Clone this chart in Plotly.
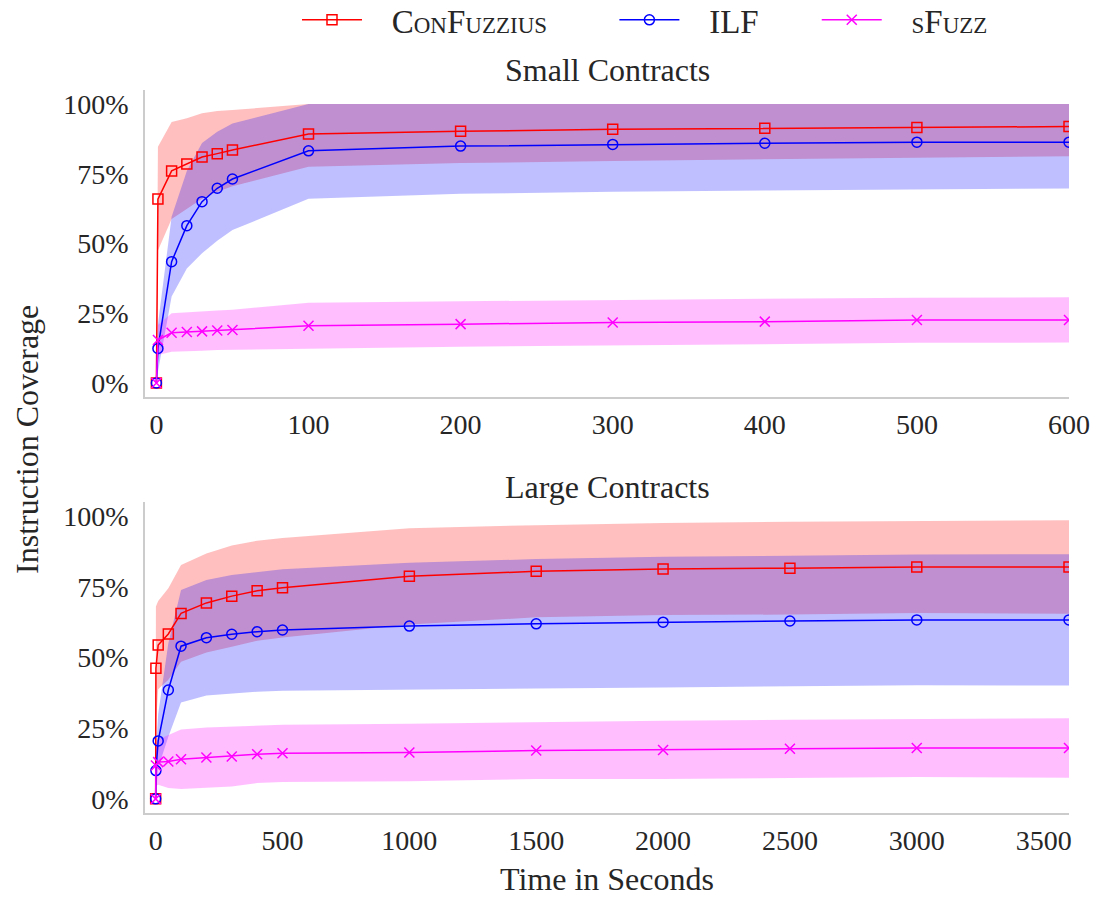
import plotly.graph_objects as go

# ---------------- data (percent) ----------------
T_SMALL = [0, 1, 10, 20, 30, 40, 50, 100, 200, 300, 400, 500, 600]
CONF_SMALL = [0, 65.9, 76.0, 78.5, 81.0, 82.2, 83.5, 89.2, 90.2, 90.9, 91.3, 91.6, 91.9]
CONF_SMALL_LO = [0, 47.5, 58.8, 62.5, 66.0, 68.5, 70.5, 77.5, 78.8, 79.6, 80.2, 80.8, 81.3]
CONF_SMALL_HI = [0, 84.7, 93.5, 94.9, 96.7, 97.5, 97.8, 100, 100, 100, 100, 100, 100]
ILF_SMALL = [0, 12.4, 43.5, 56.4, 65.0, 69.8, 73.1, 83.2, 84.9, 85.5, 85.9, 86.3, 86.3]
ILF_SMALL_LO = [0, 4.0, 31.0, 41.0, 46.5, 51.0, 54.8, 66.0, 67.8, 68.5, 69.0, 69.4, 69.7]
ILF_SMALL_HI = [0, 21.0, 59.6, 76.0, 86.0, 90.0, 93.0, 100, 100, 100, 100, 100, 100]
SFUZZ_SMALL = [0, 15.4, 18.0, 18.3, 18.5, 18.8, 19.0, 20.5, 21.1, 21.7, 22.0, 22.6, 22.6]
SFUZZ_SMALL_LO = [0, 10.0, 11.2, 11.4, 11.6, 11.8, 12.0, 12.3, 13.0, 13.6, 13.9, 14.4, 14.5]
SFUZZ_SMALL_HI = [0, 20.8, 25.0, 25.4, 25.7, 26.0, 26.3, 28.8, 29.3, 29.8, 30.1, 30.6, 30.7]

T_LARGE = [0, 1, 10, 50, 100, 200, 300, 400, 500, 1000, 1500, 2000, 2500, 3000, 3600]
CONF_LARGE = [0, 46.2, 54.4, 58.3, 65.6, 69.3, 71.7, 73.6, 74.7, 78.7, 80.5, 81.3, 81.6, 82.0, 82.0]
CONF_LARGE_LO = [0, 26.0, 38.8, 42.1, 48.5, 51.8, 53.8, 55.9, 57.1, 61.7, 64.2, 65.0, 65.2, 65.7, 65.5]
CONF_LARGE_HI = [0, 68.0, 70.0, 74.5, 82.7, 86.8, 89.6, 91.3, 92.3, 95.7, 96.8, 97.6, 98.0, 98.3, 98.5]
ILF_LARGE = [0, 10.0, 20.5, 38.5, 54.0, 57.0, 58.2, 59.1, 59.7, 61.1, 61.9, 62.5, 62.9, 63.3, 63.3]
ILF_LARGE_LO = [0, 3.0, 11.0, 22.0, 34.1, 36.6, 37.2, 37.9, 38.2, 38.7, 39.0, 39.4, 39.7, 40.2, 40.1]
ILF_LARGE_HI = [0, 17.0, 30.0, 55.0, 73.9, 77.4, 79.2, 80.3, 81.2, 83.5, 84.8, 85.6, 86.1, 86.4, 86.5]
SFUZZ_LARGE = [0, 11.8, 13.0, 13.2, 14.0, 14.6, 15.0, 15.8, 16.1, 16.4, 17.1, 17.3, 17.7, 18.0, 18.0]
SFUZZ_LARGE_LO = [0, 4.6, 5.0, 3.8, 3.5, 4.0, 4.4, 5.6, 6.0, 6.2, 7.0, 7.0, 7.4, 7.7, 7.5]
SFUZZ_LARGE_HI = [0, 19.0, 21.0, 22.6, 24.5, 25.2, 25.6, 26.0, 26.2, 26.6, 27.2, 27.6, 28.0, 28.3, 28.5]

SERIES = ["ConFuzzius", "ILF", "sFuzz"]
COLORS = ["#ff0000", "#0000ff", "#ff00ff"]
FILLS = ["rgba(255,0,0,0.25)", "rgba(0,0,255,0.25)", "rgba(255,0,255,0.25)"]
SYMBOLS = ["square-open", "circle-open", "x-thin-open"]
LEGENDS = ["legend", "legend2", "legend3"]

Y_TICKS = [0, 25, 50, 75, 100]
Y_TICKTEXT = [f"{v}%" for v in Y_TICKS]
X_TICKS_SMALL = [0, 100, 200, 300, 400, 500, 600]
X_TICKS_LARGE = [0, 500, 1000, 1500, 2000, 2500, 3000, 3500]

FONT = "Liberation Serif"
TXT = "#262626"
GAP = "\u00a0\u00a0\u00a0"
TAIL = "\u00a0\u00a0\u00a0"

fig = go.Figure()

panels = [
    ("x", "y", T_SMALL,
     [(CONF_SMALL, CONF_SMALL_LO, CONF_SMALL_HI),
      (ILF_SMALL, ILF_SMALL_LO, ILF_SMALL_HI),
      (SFUZZ_SMALL, SFUZZ_SMALL_LO, SFUZZ_SMALL_HI)], True),
    ("x2", "y2", T_LARGE,
     [(CONF_LARGE, CONF_LARGE_LO, CONF_LARGE_HI),
      (ILF_LARGE, ILF_LARGE_LO, ILF_LARGE_HI),
      (SFUZZ_LARGE, SFUZZ_LARGE_LO, SFUZZ_LARGE_HI)], False),
]

for xa, ya, t, series, legend_on in panels:
    # bands first
    for (m, lo, hi), fc in zip(series, FILLS):
        fig.add_trace(go.Scatter(
            x=list(t) + list(t)[::-1], y=list(hi) + list(lo)[::-1],
            fill="toself", fillcolor=fc, mode="lines", line=dict(width=0),
            hoverinfo="skip", showlegend=False, xaxis=xa, yaxis=ya))
    for (m, lo, hi), name, c, sym, lg in zip(series, SERIES, COLORS, SYMBOLS, LEGENDS):
        fig.add_trace(go.Scatter(
            x=t, y=m, name=GAP + name + TAIL, mode="lines+markers",
            line=dict(color=c, width=1.5),
            marker=dict(symbol=sym, size=10, color=c, line=dict(color=c, width=1.5)),
            showlegend=legend_on, legend=lg, xaxis=xa, yaxis=ya))

axis_common = dict(showline=True, linecolor="#cccccc", linewidth=1.5, showgrid=False,
                   zeroline=False, ticks="outside", tickcolor="rgba(0,0,0,0)",
                   ticklabeloverflow="allow",
                   tickfont=dict(family=FONT, size=28, color=TXT))

fig.update_layout(
    width=1094, height=898,
    margin=dict(l=145, r=25, t=90, b=85, autoexpand=False),
    plot_bgcolor="white", paper_bgcolor="white",
    xaxis=dict(domain=[0, 1], anchor="y", range=[-7.5, 600], tickvals=X_TICKS_SMALL,
               ticklen=2, **axis_common),
    yaxis=dict(domain=[0.5754, 1], anchor="x", range=[-5, 105], tickvals=Y_TICKS,
               ticktext=Y_TICKTEXT, ticklen=9, **axis_common),
    xaxis2=dict(domain=[0, 1], anchor="y2", range=[-42, 3600], tickvals=X_TICKS_LARGE,
                ticklen=2, **axis_common),
    yaxis2=dict(domain=[0, 0.4302], anchor="x2", range=[-5, 105], tickvals=Y_TICKS,
                ticktext=Y_TICKTEXT, ticklen=9, **axis_common),
)

leg_common = dict(orientation="h", yanchor="middle", y=1.097, xanchor="left",
                  bgcolor="rgba(0,0,0,0)", itemwidth=60,
                  font=dict(family=FONT, size=33, color=TXT, variant="small-caps"))
fig.update_layout(
    legend=dict(x=0.1645, **leg_common),
    legend2=dict(x=0.5080, **leg_common),
    legend3=dict(x=0.7270, **leg_common),
)

title_font = dict(family=FONT, size=32, color=TXT)
fig.add_annotation(text="Small Contracts", x=0.5, y=1.0277, xref="paper", yref="paper",
                   xanchor="center", yanchor="middle", showarrow=False, font=title_font)
fig.add_annotation(text="Large Contracts", x=0.5, y=0.4509, xref="paper", yref="paper",
                   xanchor="center", yanchor="middle", showarrow=False, font=title_font)
fig.add_annotation(text="Instruction Coverage", x=-0.1277, y=0.516, xref="paper", yref="paper",
                   xanchor="center", yanchor="middle", showarrow=False, textangle=-90,
                   font=title_font)
fig.add_annotation(text="Time in Seconds", x=0.5, y=-0.0913, xref="paper", yref="paper",
                   xanchor="center", yanchor="middle", showarrow=False, font=title_font)

# remove the browser's default 8px body margin so the figure fills the window exactly
fig.write_html("out.html", config={"displayModeBar": False},
               post_script="document.body.style.margin='0';document.body.style.overflow='hidden';")
